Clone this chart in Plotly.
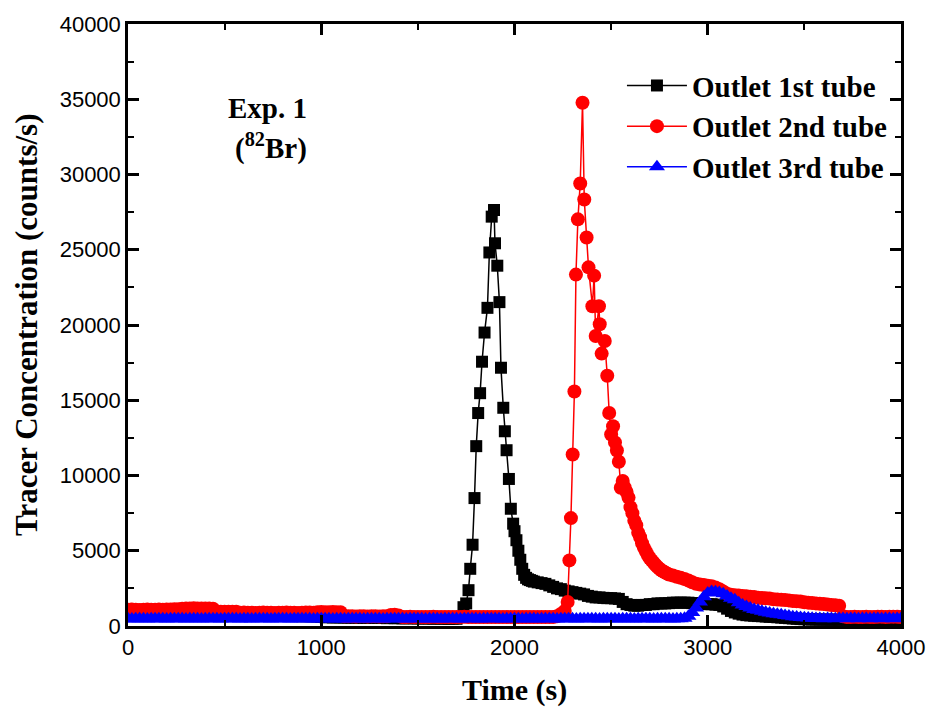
import plotly.graph_objects as go

# ---------------- data ----------------
# Outlet 1st tube (black squares)
black_time_base = list(range(0, 1720, 20))
black_base = [800, 810, 820, 810, 830, 820, 810, 820, 830, 820,
              810, 800, 790, 780, 780, 770, 760, 770, 760, 750,
              740, 740, 730, 730, 720, 720, 710, 720, 710, 700,
              700, 700, 690, 700, 700, 690, 680, 680, 680, 670,
              680, 670, 660, 670, 660, 650, 660, 650, 640, 640,
              600, 590, 580, 570, 580, 570, 560, 560, 560, 550,
              550, 540, 550, 540, 530, 530, 530, 520, 530, 520,
              520, 510, 510, 520, 510, 500, 510, 500, 500, 490,
              500, 490, 490, 480, 490, 480]
black_time_peak = [1720, 1736, 1750, 1762, 1771, 1783, 1793, 1802, 1812, 1822,
                   1832, 1845, 1860, 1870, 1882, 1894, 1899, 1911, 1922, 1930,
                   1942, 1950, 1959, 1971, 1981, 1993]
black_peak = [600, 1250, 1500, 2380, 3800, 5400, 8500, 11950, 14150, 15470,
              17560, 19500, 21140, 24820, 27200, 27640, 25430, 23940, 21520, 17160,
              14500, 12940, 11680, 9770, 7790, 6800]
black_time_tail = list(range(2000, 2100, 10)) + list(range(2100, 4001, 20))
black_tail = [6300, 5700, 5000, 4400, 3800, 3400, 3200, 3100, 3050, 3000,
              2950, 2900, 2850, 2800, 2700, 2600, 2500, 2450, 2350, 2300,
              2250, 2200, 2150, 2100, 2000, 1950, 1900, 1900, 1870, 1850,
              1850, 1830, 1800, 1600, 1450, 1400, 1350, 1350, 1400, 1400,
              1450, 1450, 1500, 1500, 1500, 1520, 1550, 1550, 1550, 1550,
              1550, 1520, 1500, 1500, 1480, 1450, 1450, 1420, 1400, 1300,
              1150, 1000, 900, 820, 760, 720, 700, 680, 660, 650,
              630, 610, 600, 580, 560, 540, 520, 500, 480, 460,
              450, 440, 430, 430, 420, 420, 420, 410, 420, 410,
              420, 410, 410, 400, 410, 400, 400, 410, 400, 400,
              400, 400, 400, 400, 390, 400]

# Outlet 2nd tube (red circles)
red_time_base = list(range(0, 2280, 20))
red_base = [1080, 1090, 1080, 1070, 1080, 1090, 1080, 1080, 1090, 1080,
            1090, 1100, 1110, 1120, 1140, 1170, 1170, 1180, 1170, 1160,
            1170, 1160, 1150, 960, 950, 950, 940, 950, 950, 880,
            890, 880, 880, 870, 880, 890, 880, 880, 870, 880,
            880, 890, 880, 880, 870, 880, 890, 900, 880, 920,
            930, 920, 920, 930, 920, 910, 650, 640, 640, 630,
            640, 640, 630, 640, 640, 630, 650, 640, 730, 740,
            700, 600, 600, 610, 600, 600, 590, 600, 600, 610,
            600, 600, 600, 590, 600, 600, 600, 610, 600, 600,
            590, 600, 600, 600, 590, 600, 600, 600, 590, 600,
            600, 590, 600, 600, 600, 590, 600, 600, 600, 600,
            600, 650, 800, 1000]
red_time_peak = [2275, 2284, 2292, 2301, 2310, 2318, 2328, 2340, 2352, 2361,
                 2373, 2383, 2403, 2412, 2420, 2437, 2441, 2451, 2467, 2480]
red_peak = [1600, 4360, 7170, 11400, 15580, 23350, 27020, 29400, 34770, 28340,
            25810, 23830, 21250, 23280, 19270, 21250, 20050, 18100, 18940, 16630]
red_time_tail = list(range(2490, 2800, 10)) + list(range(2800, 4001, 20))
red_tail = [14150, 12720, 13270, 12200, 11660, 10910, 9190, 9640, 9200, 8900,
            8530, 7900, 7500, 7000, 6700, 6200, 5900, 5500, 5200, 4950,
            4700, 4500, 4350, 4200, 4050, 3920, 3800, 3700, 3620, 3550,
            3480,
            3420, 3350, 3270, 3200, 3120, 3020, 2900, 2800, 2760, 2720,
            2680, 2640, 2560, 2450, 2300, 2150, 2080, 2050, 2020, 2000,
            1980, 1950, 1920, 1880, 1860, 1840, 1820, 1780, 1760, 1740,
            1720, 1700, 1660, 1640, 1620, 1580, 1550, 1530, 1500, 1480,
            1460, 1430, 1400, 1380, 1350, 650, 600, 600, 610, 600,
            600, 610, 600, 600, 610, 620, 600, 610, 620, 610,
            600]

# Outlet 3rd tube (blue triangles)
blue_time = list(range(0, 4001, 20))
blue_vals = [480, 470, 480, 490, 480, 470, 480, 480, 490, 480,
             470, 480, 480, 490, 480, 470, 480, 480, 480, 470,
             480, 490, 480, 480, 470, 480, 480, 490, 480, 470,
             480, 480, 470, 480, 490, 480, 480, 470, 480, 480,
             490, 480, 470, 480, 480, 480, 490, 480, 470, 480,
             480, 490, 480, 470, 480, 480, 470, 480, 490, 480,
             480, 470, 480, 480, 490, 480, 470, 480, 480, 480,
             490, 480, 470, 480, 480, 490, 480, 470, 480, 480,
             480, 470, 480, 490, 480, 480, 470, 480, 480, 490,
             480, 470, 480, 480, 480, 490, 480, 470, 480, 480,
             490, 480, 470, 480, 480, 480, 470, 480, 490, 480,
             480, 470, 480, 480, 490, 480, 470, 480, 480, 480,
             490, 480, 470, 480, 480, 490, 480, 470, 480, 480,
             480, 470, 480, 490, 480, 480, 470, 480, 480, 490,
             480, 470, 480, 490, 520,
             650, 900, 1200, 1600, 1950, 2200, 2300, 2280, 2230, 2150,
             2000, 1850, 1750, 1550, 1400, 1300, 1200, 1100, 1040, 980,
             920, 870, 820, 780, 740, 700, 660, 620, 600, 570,
             550, 530, 510, 500, 500, 490, 500, 500, 490, 500,
             500, 490, 500, 500, 490, 500, 500, 490, 500, 500,
             490, 500, 500, 490, 500, 500]

series_names = ["Outlet 1st tube", "Outlet 2nd tube", "Outlet 3rd tube"]
x_ticks = [0, 1000, 2000, 3000, 4000]
x_tick_text = ["0", "1000", "2000", "3000", "4000"]
y_ticks = [0, 5000, 10000, 15000, 20000, 25000, 30000, 35000, 40000]
y_tick_text = ["0", "5000", "10000", "15000", "20000", "25000", "30000", "35000", "40000"]

# ---------------- figure ----------------
SERIF = "Liberation Serif"
SANS = "Liberation Sans"

fig = go.Figure()
fig.add_trace(go.Scatter(
    x=black_time_base + black_time_peak + black_time_tail,
    y=black_base + black_peak + black_tail,
    mode="lines+markers", name="<b>" + series_names[0] + "</b>",
    line=dict(color="black", width=1.5),
    marker=dict(symbol="square", size=12, color="black")))
fig.add_trace(go.Scatter(
    x=red_time_base + red_time_peak + red_time_tail,
    y=red_base + red_peak + red_tail,
    mode="lines+markers", name="<b>" + series_names[1] + "</b>",
    line=dict(color="red", width=1.5),
    marker=dict(symbol="circle", size=14, color="red")))
fig.add_trace(go.Scatter(
    x=blue_time, y=blue_vals,
    mode="lines+markers", name="<b>" + series_names[2] + "</b>",
    line=dict(color="blue", width=1.5),
    marker=dict(symbol="triangle-up", size=14, color="blue")))

axis_common = dict(showline=True, linewidth=2.5, linecolor="black", mirror="allticks",
                   ticks="inside", ticklen=11, tickwidth=2.5, tickcolor="black",
                   showgrid=False, zeroline=False,
                   tickfont=dict(family=SANS, size=22, color="black"))
fig.update_xaxes(range=[0, 4000], tickvals=x_ticks, ticktext=x_tick_text,
                 minor=dict(ticks="inside", ticklen=6, tickwidth=2, dtick=500, tick0=0,
                            tickcolor="black", showgrid=False),
                 **axis_common)
fig.update_yaxes(range=[0, 40000], tickvals=y_ticks, ticktext=y_tick_text,
                 minor=dict(ticks="inside", ticklen=6, tickwidth=2, dtick=2500, tick0=0,
                            tickcolor="black", showgrid=False),
                 **axis_common)

fig.update_layout(
    width=937, height=709,
    margin=dict(l=128, r=29, t=20, b=83),
    paper_bgcolor="white", plot_bgcolor="white",
    showlegend=True,
    legend=dict(x=0.639, y=0.94, xanchor="left", yanchor="top",
                bgcolor="rgba(0,0,0,0)", borderwidth=0, itemwidth=60,
                font=dict(family=SERIF, size=29, color="black"),
                tracegroupgap=0),
    annotations=[
        dict(text="<b>Exp. 1</b>", x=0.181, y=0.8597, xref="paper", yref="paper",
             xanchor="center", yanchor="middle",
             showarrow=False, font=dict(family=SERIF, size=29, color="black")),
        dict(text="<b>(<sup>82</sup>Br)</b>", x=0.185, y=0.797, xref="paper", yref="paper",
             xanchor="center", yanchor="middle",
             showarrow=False, font=dict(family=SERIF, size=29, color="black")),
        dict(text="<b>Tracer Concentration (counts/s)</b>", x=-0.132, y=0.5,
             xref="paper", yref="paper", textangle=-90, showarrow=False,
             xanchor="center", yanchor="middle",
             font=dict(family=SERIF, size=31, color="black")),
        dict(text="<b>Time (s)</b>", x=0.5, y=-0.106, xref="paper", yref="paper",
             xanchor="center", yanchor="middle",
             showarrow=False, font=dict(family=SERIF, size=30, color="black")),
    ],
)

fig.write_html("out.html")
